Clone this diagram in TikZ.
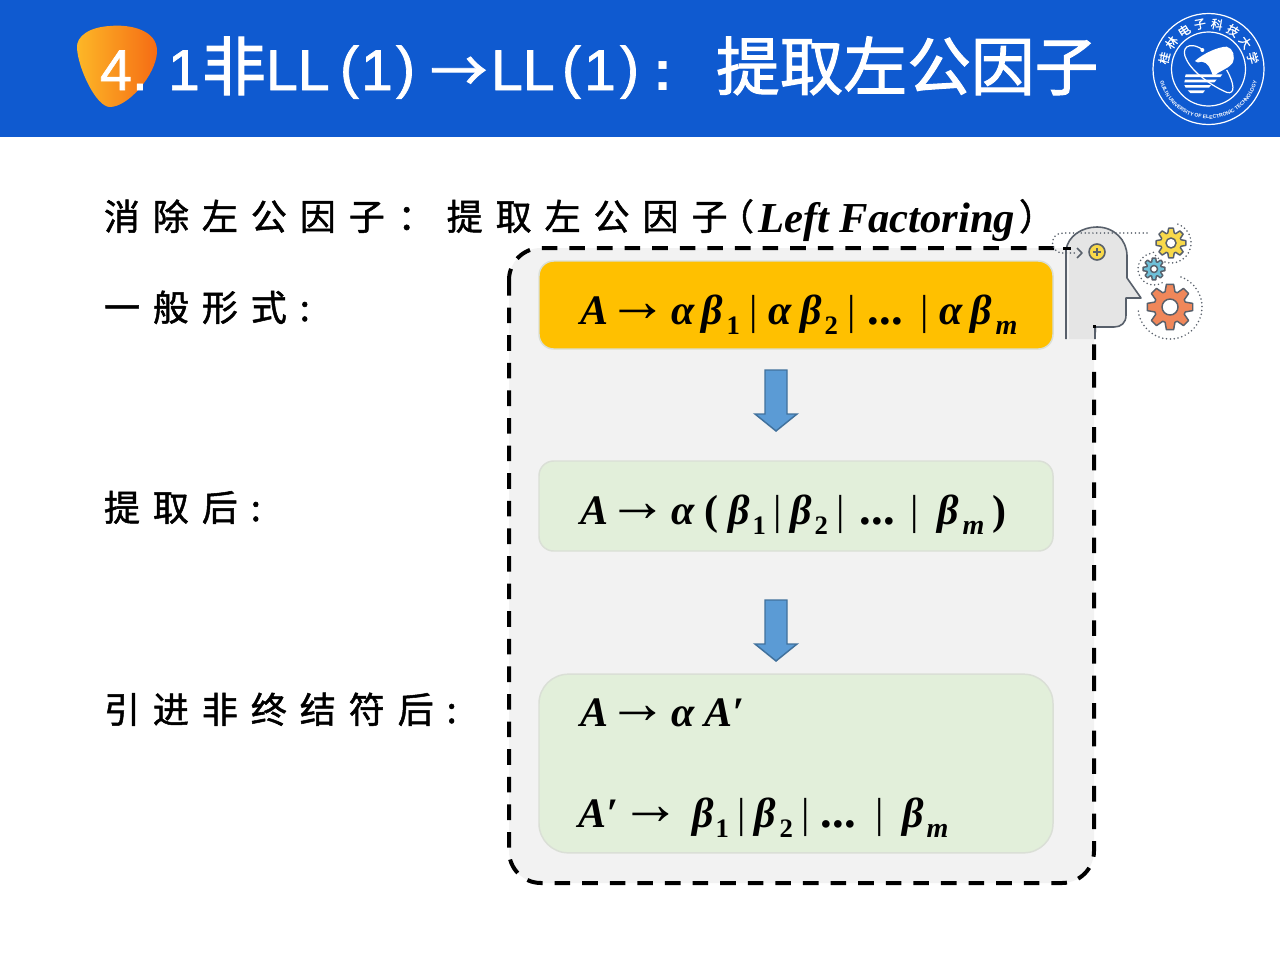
\documentclass[tikz,border=0pt]{standalone}
\usepackage{fontspec}
\setmainfont{Liberation Serif}
\newfontfamily\cjkb[LetterSpace=36,FakeBold=1.4]{Noto Sans CJK SC}
\newfontfamily\cjkp[FakeBold=1.4]{Noto Sans CJK SC}
\newfontfamily\cjkt[FakeBold=1.6]{Noto Sans CJK SC}
\newfontfamily\cjkl[FakeBold=1.0]{Noto Sans CJK SC}
\newfontfamily\tsans[FakeBold=1.2]{Liberation Sans}
\newfontfamily\tsansb{Liberation Sans Bold}
\newfontfamily\fx{Liberation Serif Bold Italic}
\newfontfamily\fr{Liberation Serif}
\newfontfamily\frb{Liberation Serif Bold}
\usetikzlibrary{calc,shapes.geometric,decorations.text}
\definecolor{hdr}{HTML}{0F5AD0}
\definecolor{ink}{HTML}{58606B}
\definecolor{panel}{HTML}{F2F2F2}
\definecolor{gold}{HTML}{FFC000}
\definecolor{pale}{HTML}{E2EFDA}
\definecolor{edgec}{HTML}{DADFD6}
\definecolor{arrf}{HTML}{5B9BD5}
\definecolor{arrs}{HTML}{41719C}
\definecolor{gearo}{HTML}{F0875A}
\definecolor{geary}{HTML}{F8D94A}
\definecolor{gearb}{HTML}{6FC0D8}
\definecolor{blobl}{HTML}{FDB827}
\definecolor{blobr}{HTML}{F56B14}
% tokens placed at an offset (reference pixels) from the formula's left end
\newcommand{\tok}[2]{\makebox[0pt][l]{\hspace{#1\dimexpr0.75pt\relax}#2}}
\newcommand{\sbb}[1]{\raisebox{-8pt}{\fontsize{20}{20}\selectfont\frb #1}}
\newcommand{\sbi}[1]{\raisebox{-8pt}{\fontsize{21}{21}\selectfont\fx #1}}
\newcommand{\arrowt}{\raisebox{1.9pt}{\fontsize{45.5}{45.5}\selectfont\fr →}}
\newcommand{\arrowb}{\raisebox{1.9pt}{\fontsize{45.5}{45.5}\selectfont\frb →}}
\newcommand{\vb}{{\fr |}}
\newcommand{\dts}{{\fontsize{35}{35}\selectfont\frb ...}}
\tikzset{
 x=0.75pt,y=-0.75pt,
 every node/.style={inner sep=0pt,outer sep=0pt},
 bodytext/.style={anchor=base west,font=\cjkb\fontsize{27}{27}\selectfont,text=black},
 bodyparen/.style={anchor=base west,font=\cjkp\fontsize{27}{27}\selectfont,text=black},
 mathtext/.style={anchor=base west,font=\fx\fontsize{31.5}{32}\selectfont,text=black},
 titletext/.style={anchor=base west,font=\tsans\fontsize{43}{43}\selectfont,text=white},
 titlecjk/.style={anchor=base west,font=\cjkt\fontsize{47.8}{48}\selectfont,text=white},
 rbox/.style={draw=edgec,line width=1.1pt,rounded corners=#1},
 downarr/.style={draw=arrs,fill=arrf,line width=1.1pt,line join=miter},
 iconline/.style={draw=ink,line width=1.2pt,line join=round},
 dotl/.style={draw=ink,line width=1.3pt,line cap=round,dash pattern=on 0pt off 2.9pt},
}
\newcommand{\gear}[6]{% cx cy outer inner hole colour
 \begin{scope}[shift={(#1,#2)}]
 \fill[#6,draw=ink,line width=1.1pt,line join=round]
  (-9:#3) \foreach \k [evaluate=\k as \a using \k*45] in {0,...,7}{
   -- (\a-9:#3) -- (\a+9:#3) -- (\a+18:#4) -- (\a+27:#4)
  } -- cycle;
 \fill[white,draw=ink,line width=1.1pt] (0,0) circle[radius=#5];
 \end{scope}
}
\begin{document}
\begin{tikzpicture}
\useasboundingbox (0,0) rectangle (1280,960);
\fill[white] (0,0) rectangle (1280,960);
% header
\fill[hdr] (0,0) rectangle (1280,137);
% blob
\shade[left color=blobl,right color=blobr]
 (110,26) .. controls (130,24) and (158,30) .. (157,52) .. controls (156,75) and (128,107) .. (110,107)
 .. controls (96,107) and (78,68) .. (77,48) .. controls (76,36) and (90,27) .. (110,26) -- cycle;
% title
\node[titletext] (t4) at (100,90) {4.};
\node[titletext] (t1) at (168,90) {1};
\node[titlecjk] (tfei) at (202,90) {非};
\node[titletext] (tll) at (266,90) {LL};
\node[titletext] (tp1) at (340,87) {(};
\node[titletext] (t2) at (361,90) {1};
\node[titletext] (tp2) at (396,87) {)};
\node[titlecjk,font=\cjkt\fontsize{43}{43}\selectfont] (tarr) at (430,92) {→};
\node[titletext] (tll2) at (491,90) {LL};
\node[titletext] (tp3) at (562,87) {(};
\node[titletext] (t3) at (584,90) {1};
\node[titletext] (tp4) at (620,87) {)};
\node[titletext,font=\tsansb\fontsize{43}{43}\selectfont] (tcol) at (653,90) {:};
\node[titlecjk] (tmain) at (716,90) {提取左公因子};
% logo
\begin{scope}[shift={(1208.5,69)}]
\draw[white,line width=.9pt] (0,0) circle[radius=55.5];
\draw[white,line width=.9pt] (0,0) circle[radius=37];
\foreach \c [count=\i] in {桂,林,电,子,科,技,大,学}{
 \pgfmathsetmacro\ang{194+(\i-1)*21.7}
 \pgfmathsetmacro\rot{270-\ang}
 \node[text=white,font=\cjkl\fontsize{9}{9}\selectfont,rotate=\rot] (lc\i) at (\ang:45.5) {\c};
}
\path[decorate,decoration={text along path,text align=center,
  text={|\tsansb\fontsize{3.9}{4}\selectfont\color{white}|GUILIN UNIVERSITY OF ELECTRONIC TECHNOLOGY}}]
  (168:50) arc[start angle=168,end angle=12,radius=50];
\end{scope}
\begin{scope}[shift={(1145,5)},x=.25pt,y=-.25pt]
\fill[white] (150,168) .. controls (175,145) and (220,125) .. (245,125) .. controls (265,130) and (272,155) .. (262,175)
 .. controls (245,195) and (225,195) .. (205,215) .. controls (195,190) and (190,172) .. (170,170) .. controls (160,172) and (155,175) .. (150,168) -- cycle;
\fill[white] (122,208) -- (232,208) -- (226,216) -- (120,216) -- cycle;
\fill[white] (120,224) -- (215,224) -- (208,232) -- (118,232) -- cycle;
\fill[white] (118,240) -- (198,240) -- (192,248) -- (122,248) -- cycle;
\fill[white] (128,256) -- (180,256) -- (174,264) -- (136,264) -- cycle;
\draw[white,line width=.9pt] (175,135) .. controls (130,105) and (105,130) .. (125,165) .. controls (145,205) and (205,245) .. (245,262) .. controls (272,270) and (268,235) .. (245,195);
\fill[white] (172,135) circle[radius=6];
\end{scope}
% panel
\draw[fill=panel,draw=black,line width=3pt,rounded corners=24pt,dash pattern=on 11.7pt off 9pt]
 (509,248) rectangle (1094,883);
% boxes
\node[rbox=11pt,fill=gold,minimum width=385.5pt,minimum height=66pt] (f1box) at (796,305) {};
\node[rbox=11pt,fill=pale,minimum width=385.5pt,minimum height=67.5pt] (f2box) at (796,506) {};
\node[rbox=22pt,fill=pale,minimum width=385.5pt,minimum height=134pt] (f3box) at (796,763.5) {};
% arrows
\path[downarr] (765,370) -- (787,370) -- (787,414) -- (797,414) -- (776,431) -- (755,414) -- (765,414) -- cycle;
\path[downarr] (765,600) -- (787,600) -- (787,644) -- (797,644) -- (776,661) -- (755,644) -- (765,644) -- cycle;
% left text
\node[bodytext] (h0) at (104,230) {消除左公因子：提取左公因子};
\node[bodyparen] (h00) at (718,230) {（};
\node[anchor=base west,font=\fx\fontsize{32}{32}\selectfont] (h1) at (758,232) {Left Factoring};
\node[bodyparen] (h2) at (1019,230) {）};
\node[bodytext] (l1) at (104,321) {一般形式:};
\node[bodytext] (l2) at (104,521) {提取后:};
\node[bodytext] (l3) at (104,723) {引进非终结符后:};
% formulas
\node[mathtext] (m1) at (580,324) {\tok{0}{A}\tok{27}{\arrowt}\tok{91}{α}\tok{121}{β}\tok{146}{\sbb{1}}\tok{169}{\vb}\tok{188}{α}\tok{220}{β}\tok{244}{\sbb{2}}\tok{267}{\vb}\tok{287}{\dts}\tok{340}{\vb}\tok{359}{α}\tok{390}{β}\tok{415}{\sbi{m}}};
\node[mathtext] (m2) at (580,524) {\tok{0}{A}\tok{27}{\arrowt}\tok{91}{α}\tok{124}{\frb(}\tok{148}{β}\tok{172}{\sbb{1}}\tok{193}{\vb}\tok{210}{β}\tok{234}{\sbb{2}}\tok{256}{\vb}\tok{279}{\dts}\tok{330}{\vb}\tok{357}{β}\tok{382}{\sbi{m}}\tok{412}{\frb)}};
\node[mathtext] (m3) at (580,726) {\tok{0}{A}\tok{27}{\arrowt}\tok{91}{α}\tok{124}{A′}};
\node[mathtext] (m4) at (578,827) {\tok{0}{A′}\tok{42}{\arrowb}\tok{114}{β}\tok{137}{\sbb{1}}\tok{159}{\vb}\tok{176}{β}\tok{201}{\sbb{2}}\tok{223}{\vb}\tok{242}{\dts}\tok{297}{\vb}\tok{324}{β}\tok{348}{\sbi{m}}};
% head icon
\draw[iconline,fill=black!10] (1066,339) -- (1066,250) .. controls (1068,236) and (1082,227) .. (1097,227)
 .. controls (1114,227) and (1127,240) .. (1127,256) -- (1127,278) -- (1141,298) -- (1126,298) -- (1126,315)
 .. controls (1126,323) and (1121,327) .. (1114,327) -- (1095,327) -- (1095,339);
\fill[panel] (1067,250) rectangle (1069,339);
\fill[black] (1063,247) rectangle (1071,250);
\fill[black] (1093,325) rectangle (1096,328);
\draw[dotl] (1147,233) -- (1063,233) .. controls (1049,233) and (1049,253) .. (1063,253) -- (1077,253);
\draw[iconline] (1077,248) -- (1082,253) -- (1077,258);
\draw[iconline,fill=geary] (1097,252) circle[radius=8];
\draw[ink,line width=1.1pt] (1093,252) -- (1101,252) (1097,248) -- (1097,256);
\gear{1170}{307}{23}{16}{8}{gearo}
\gear{1171}{243}{15}{10.5}{5}{geary}
\gear{1154}{269}{11}{7.5}{3.5}{gearb}
\begin{scope}[shift={(1170,307)}]
\draw[dotl] (-70:32) arc[start angle=-70,end angle=175,radius=32];
\end{scope}
\begin{scope}[shift={(1171,243)}]
\draw[dotl] (-70:20) arc[start angle=-70,end angle=160,radius=20];
\end{scope}
\begin{scope}[shift={(1154,269)}]
\draw[dotl] (60:16) arc[start angle=60,end angle=260,radius=16];
\end{scope}
\end{tikzpicture}
\end{document}
